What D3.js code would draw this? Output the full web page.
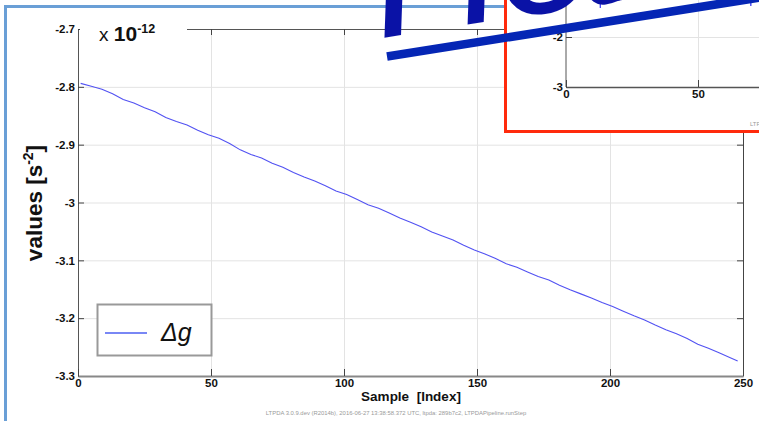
<!DOCTYPE html>
<html>
<head>
<meta charset="utf-8">
<script src="https://cdn.jsdelivr.net/npm/d3@7"></script>
<style>
  html, body { margin: 0; padding: 0; background: #fff; }
  svg { display: block; font-family: "Liberation Sans", Arial, Helvetica, sans-serif; }
</style>
</head>
<body>
<svg id="chart" width="759" height="421"></svg>
<script>
// Δg time series (units of 1e-12 s^-2) against sample index
const sampleIdx = [1, 5, 9, 13, 17, 21, 25, 29, 33, 37, 41, 45, 49, 53, 57, 61, 65, 69, 73, 77,
  81, 85, 89, 93, 97, 101, 105, 109, 113, 117, 121, 125, 129, 133, 137, 141, 145, 149, 153, 157,
  161, 165, 169, 173, 177, 181, 185, 189, 193, 197, 201, 205, 209, 213, 217, 221, 225, 229, 233, 237,
  241, 245, 248];
const deltaG = [-2.794, -2.799, -2.804, -2.812, -2.822, -2.828, -2.836, -2.843, -2.853, -2.860,
  -2.866, -2.875, -2.883, -2.889, -2.898, -2.909, -2.917, -2.923, -2.932, -2.939,
  -2.948, -2.956, -2.963, -2.971, -2.980, -2.986, -2.995, -3.004, -3.010, -3.018,
  -3.027, -3.034, -3.042, -3.051, -3.058, -3.065, -3.074, -3.082, -3.089, -3.097,
  -3.106, -3.112, -3.120, -3.128, -3.134, -3.143, -3.151, -3.158, -3.165, -3.173,
  -3.180, -3.188, -3.196, -3.203, -3.212, -3.220, -3.227, -3.235, -3.245, -3.252,
  -3.260, -3.268, -3.274];

const xTicks = [0, 50, 100, 150, 200, 250];
const xGrid = [50, 100, 150, 200];
const yTicks = [-3.3, -3.2, -3.1, -3, -2.9, -2.8, -2.7];
const yTickLabels = ["-3.3", "-3.2", "-3.1", "-3", "-2.9", "-2.8", "-2.7"];
const yGrid = [-3.2, -3.1, -3, -2.9, -2.8];

// small embedded plot (top right)
const insetXTicks = [0, 50];
const insetYTicks = [-3, -2];
const insetYTickLabels = ["-3", "-2"];
const insetSamples = [0, 12, 13, 14, 69, 70, 71, 120];
const insetValues = [-0.5, -0.5, -1.42, -0.5, -0.5, -1.38, -0.5, -0.5];

const footerText = "LTPDA 3.0.9.dev (R2014b), 2016-06-27 13:38:58.372 UTC, ltpda: 289b7c2, LTPDAPipeline.runStep";

const svg = d3.select("#chart");
const L = 78, R = 743, T = 29, B = 376;

const x = d3.scaleLinear().domain([0, 250]).range([L, R]);
const y = d3.scaleLinear().domain([-3.3, -2.7]).range([B, T]);

// grid
const grid = svg.append("g");
grid.append("g").attr("transform", `translate(0,${B})`)
  .call(d3.axisBottom(x).tickValues(xGrid).tickSize(-(B - T)).tickFormat(""))
  .call(g => g.select(".domain").remove())
  .selectAll("line").attr("stroke", "#e3e3e3");
grid.append("g").attr("transform", `translate(${L},0)`)
  .call(d3.axisLeft(y).tickValues(yGrid).tickSize(-(R - L)).tickFormat(""))
  .call(g => g.select(".domain").remove())
  .selectAll("line").attr("stroke", "#e3e3e3");

// data line
const line = d3.line().x((d, i) => x(sampleIdx[i])).y(d => y(d));
svg.append("path").datum(deltaG)
  .attr("d", line)
  .attr("fill", "none")
  .attr("stroke", "#5252f2")
  .attr("stroke-width", 1.1);

// axes
function styleAxis(g, col, w) {
  g.select(".domain").attr("stroke", col).attr("stroke-width", w);
  g.selectAll(".tick line").attr("stroke", "#444");
  g.selectAll("text").attr("font-family", "Liberation Sans, Arial, sans-serif")
    .attr("font-size", 11.5).attr("font-weight", "bold").attr("fill", "#111");
}
svg.append("g").attr("transform", `translate(0,${T})`)
  .call(d3.axisTop(x).tickValues(xTicks).tickSize(-6).tickSizeOuter(0).tickFormat(""))
  .call(g => styleAxis(g, "#555", 1));
svg.append("g").attr("transform", `translate(${R},0)`)
  .call(d3.axisRight(y).tickValues(yTicks).tickSize(-6).tickSizeOuter(0).tickFormat(""))
  .call(g => styleAxis(g, "#444", 1));
svg.append("g").attr("transform", `translate(${L},0)`)
  .call(d3.axisLeft(y).tickValues(yTicks).tickSize(-6).tickSizeOuter(0).tickPadding(3)
    .tickFormat((d, i) => yTickLabels[i]))
  .call(g => styleAxis(g, "#555", 1));
svg.append("g").attr("transform", `translate(0,${B})`)
  .call(d3.axisBottom(x).tickValues(xTicks).tickSize(-7).tickSizeOuter(0).tickPadding(3))
  .call(g => styleAxis(g, "#888", 2));

// exponent label with a white backing
svg.append("rect").attr("x", L + 2).attr("y", 16).attr("width", 107).attr("height", 27).attr("fill", "#fff");
const expo = svg.append("text").attr("x", 99).attr("y", 41).attr("fill", "#111");
expo.append("tspan").attr("font-size", 19).text("x ");
expo.append("tspan").attr("font-size", 21).attr("font-weight", "bold").text("10");
expo.append("tspan").attr("font-size", 12.5).attr("font-weight", "bold").attr("dy", -8).text("-12");

// axis titles
const yl = svg.append("text")
  .attr("transform", "translate(41.5,203) rotate(-90)")
  .attr("text-anchor", "middle").attr("font-size", 22.5).attr("font-weight", "bold").attr("fill", "#111");
yl.append("tspan").text("values [s");
yl.append("tspan").attr("font-size", 14).attr("dy", -9).text("-2");
yl.append("tspan").attr("dy", 9).text("]");

svg.append("text").attr("x", 411).attr("y", 401).attr("text-anchor", "middle")
  .attr("font-size", 13.5).attr("font-weight", "bold").attr("fill", "#111")
  .attr("xml:space", "preserve").text("Sample  [Index]");

svg.append("text").attr("x", 396).attr("y", 415).attr("text-anchor", "middle")
  .attr("font-size", 5.9).attr("fill", "#9a9a9a").text(footerText);

// legend
const defs = svg.append("defs");
defs.append("filter").attr("id", "soft").attr("x", "-20%").attr("y", "-200%").attr("width", "140%").attr("height", "500%")
  .append("feGaussianBlur").attr("stdDeviation", 1.5);
const leg = svg.append("g");
leg.append("rect").attr("x", 97.5).attr("y", 304.5).attr("width", 114).attr("height", 51)
  .attr("fill", "#fff").attr("stroke", "#999").attr("stroke-width", 2);
leg.append("line").attr("x1", 105).attr("x2", 147).attr("y1", 336).attr("y2", 336)
  .attr("stroke", "#bbb").attr("stroke-width", 2.5).attr("filter", "url(#soft)");
leg.append("line").attr("x1", 105).attr("x2", 147).attr("y1", 333).attr("y2", 333)
  .attr("stroke", "#4d5ff2").attr("stroke-width", 1.6);
leg.append("text").attr("x", 161).attr("y", 341).attr("font-size", 25).attr("font-style", "italic")
  .attr("fill", "#111").text("Δg");

// slide frame
svg.append("path").attr("d", "M5.5,421 V6.5 H510")
  .attr("fill", "none").attr("stroke", "#6a9fd6").attr("stroke-width", 3);

// embedded plot
const inset = svg.append("g");
inset.append("rect").attr("x", 505.5).attr("y", -10).attr("width", 300).attr("height", 141.5)
  .attr("fill", "#fff").attr("stroke", "#ff2a0c").attr("stroke-width", 3);
const ix = d3.scaleLinear().domain([0, 250]).range([566, 1226]);
const iy = d3.scaleLinear().domain([-3, -2]).range([87, 37]);
inset.append("g").attr("transform", "translate(0,87)")
  .call(d3.axisBottom(ix).tickValues([50]).tickSize(-100).tickFormat(""))
  .call(g => g.select(".domain").remove())
  .selectAll("line").attr("stroke", "#e3e3e3");
inset.append("g").attr("transform", "translate(566,0)")
  .call(d3.axisLeft(iy).tickValues([-2]).tickSize(-300).tickFormat(""))
  .call(g => g.select(".domain").remove())
  .selectAll("line").attr("stroke", "#e3e3e3");
inset.append("path").datum(insetValues)
  .attr("d", d3.line().x((d, i) => ix(insetSamples[i])).y(d => iy(d)))
  .attr("fill", "none").attr("stroke", "#4b4bf5").attr("stroke-width", 1);
inset.append("g").attr("transform", "translate(566,0)")
  .call(d3.axisLeft(iy).tickValues(insetYTicks).tickSize(-6).tickSizeOuter(0).tickPadding(3)
    .tickFormat((d, i) => insetYTickLabels[i]))
  .call(g => styleAxis(g, "#555", 1))
  .call(g => g.select(".domain").attr("d", "M0,-20 V87"));
inset.append("g").attr("transform", "translate(0,87)")
  .call(d3.axisBottom(ix).tickValues(insetXTicks).tickSize(-7).tickSizeOuter(0).tickPadding(3))
  .call(g => styleAxis(g, "#555", 1.5));
inset.append("text").attr("x", 750).attr("y", 126).attr("font-size", 5.9).attr("fill", "#9a9a9a").text(footerText);

// rotated stamp with underline
const stamp = svg.append("g").attr("transform", "translate(387,56.5) rotate(-9)");
stamp.append("line").attr("x1", 0).attr("x2", 460).attr("y1", 0).attr("y2", 0)
  .attr("stroke", "#0526b5").attr("stroke-width", 8.5);
const st = stamp.append("text").attr("x", -5).attr("y", -19)
  .attr("font-size", 180).attr("font-style", "italic").attr("fill", "#0a12a6");
st.append("tspan").text("H");
st.append("tspan").attr("dx", -5).text("o");
st.append("tspan").attr("dx", -20).text("t");
st.append("tspan").attr("dx", -20).text("!");
</script>
</body>
</html>
